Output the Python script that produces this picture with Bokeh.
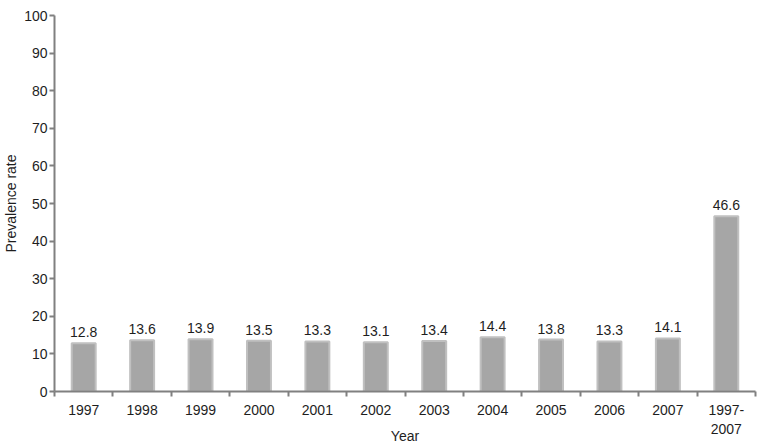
from bokeh.plotting import figure
from bokeh.models import ColumnDataSource, FixedTicker, Range1d
from bokeh.core.properties import value
from bokeh.embed import file_html
from bokeh.resources import INLINE

years = ["1997", "1998", "1999", "2000", "2001", "2002", "2003", "2004", "2005", "2006", "2007", "1997-\n2007"]
rates = [12.8, 13.6, 13.9, 13.5, 13.3, 13.1, 13.4, 14.4, 13.8, 13.3, 14.1, 46.6]
y_ticks = [0, 10, 20, 30, 40, 50, 60, 70, 80, 90, 100]

n = len(years)
centers = [i + 0.5 for i in range(n)]
src = ColumnDataSource(dict(x=centers, top=rates, label=[f"{r:.1f}" for r in rates]))

FONT = "Liberation Sans"
TXT = "#1e1e1e"
AX = "#808080"

p = figure(width=760, height=446, output_backend="svg", toolbar_location=None,
           x_range=Range1d(0, n), y_range=Range1d(0, 100),
           min_border_left=50, min_border_right=5, min_border_top=15, min_border_bottom=54)
p.outline_line_color = None
p.xgrid.visible = False
p.ygrid.visible = False

p.vbar(x="x", top="top", bottom=0, width=0.41, source=src,
       fill_color="#a6a6a6", line_color="#c0c0c0", line_width=2)
p.text(x="x", y="top", text="label", source=src, text_align="center", text_baseline="bottom",
       y_offset=-6, text_font=value(FONT), text_font_size="14px", text_color=TXT)

xa = p.xaxis[0]
xa.ticker = FixedTicker(ticks=centers, minor_ticks=list(range(n + 1)))
xa.major_label_overrides = {c: y for c, y in zip(centers, years)}
xa.major_tick_line_color = None
xa.major_tick_out = 0
xa.major_tick_in = 0
xa.minor_tick_in = 0
xa.minor_tick_out = 5
xa.minor_tick_line_color = AX
xa.minor_tick_line_width = 2
xa.axis_line_color = AX
xa.axis_line_width = 2
xa.major_label_text_font = FONT
xa.major_label_text_font_size = "14px"
xa.major_label_text_color = TXT
xa.major_label_standoff = 5
xa.axis_label = "Year"
xa.axis_label_text_font = FONT
xa.axis_label_text_font_size = "14px"
xa.axis_label_text_font_style = "normal"
xa.axis_label_text_color = TXT
xa.axis_label_standoff = -12

ya = p.yaxis[0]
ya.ticker = FixedTicker(ticks=y_ticks)
ya.minor_tick_line_color = None
ya.major_tick_in = 0
ya.major_tick_out = 5
ya.major_tick_line_color = AX
ya.major_tick_line_width = 2
ya.axis_line_color = AX
ya.axis_line_width = 2
ya.major_label_text_font = FONT
ya.major_label_text_font_size = "14px"
ya.major_label_text_color = TXT
ya.major_label_standoff = 2
ya.axis_label = "Prevalence rate"
ya.axis_label_text_font = FONT
ya.axis_label_text_font_size = "14px"
ya.axis_label_text_font_style = "normal"
ya.axis_label_text_color = TXT
ya.axis_label_standoff = 2

open("out.html", "w").write(file_html(p, INLINE))
